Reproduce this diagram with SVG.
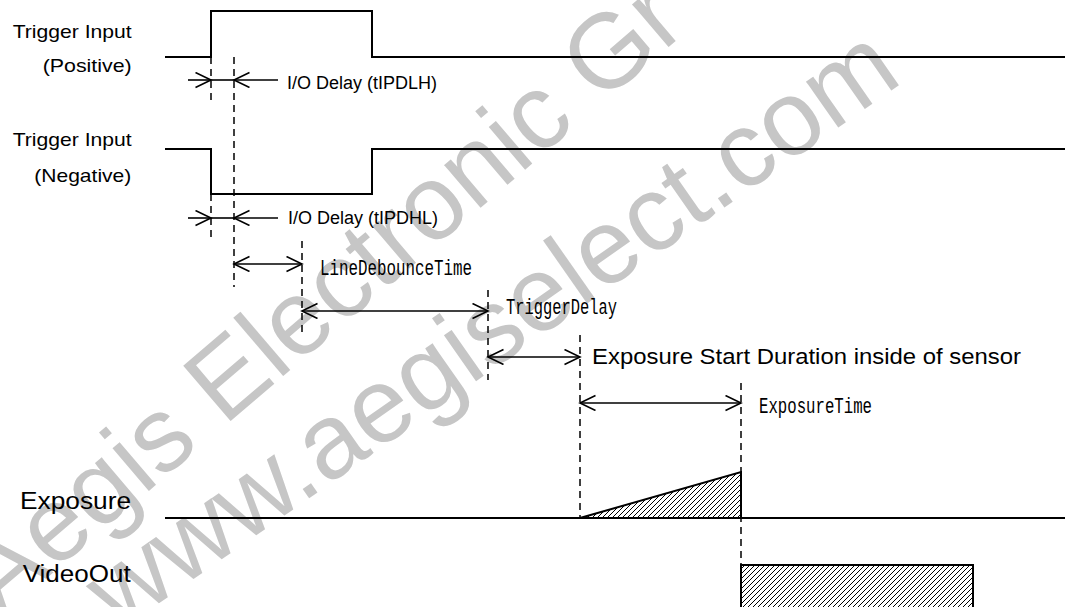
<svg xmlns="http://www.w3.org/2000/svg" width="1065" height="607" viewBox="0 0 1065 607">
<style>
.sig{fill:none;stroke:#000;stroke-width:2}
.dash{fill:none;stroke:#000;stroke-width:1.5;stroke-dasharray:7 5}
.arr{fill:none;stroke:#000;stroke-width:1.6}
.lbl{font-family:"Liberation Sans",Arial,sans-serif;fill:#000}
.mono{font-family:"Liberation Mono","DejaVu Sans Mono",monospace;font-size:22px;fill:#000}
.wm{font-family:"Liberation Sans",Arial,sans-serif;font-size:106px;fill:#c6c6c6}
</style>
<defs>
<marker id="head" viewBox="0 0 18 18" markerWidth="18" markerHeight="18" refX="16" refY="8" orient="auto-start-reverse" markerUnits="userSpaceOnUse">
<path d="M0.5,0.5 L16,8 L0.5,15.5" fill="none" stroke="#000" stroke-width="1.6"/>
</marker>
<pattern id="hatch" patternUnits="userSpaceOnUse" width="5" height="5">
<path d="M-1,1 L1,-1 M0,5 L5,0 M4,6 L6,4" stroke="#000" stroke-width="1"/>
</pattern>
</defs>
<rect width="1065" height="607" fill="#fff"/>
<g id="watermark">
<text class="wm" transform="translate(0,618) rotate(-40.5)">Aegis Electronic Gr</text>
<text class="wm" transform="translate(118,632) rotate(-35)">www.aegiselect.com</text>
</g>
<g id="trigger-positive">
<text class="lbl" x="12.7" y="37.5" font-size="18.6" textLength="119" lengthAdjust="spacingAndGlyphs">Trigger Input</text>
<text class="lbl" x="42.7" y="72" font-size="18.6" textLength="89" lengthAdjust="spacingAndGlyphs">(Positive)</text>
<path class="sig" d="M165,57 H211 V11 H372 V57 H1065"/>
</g>
<g id="trigger-negative">
<text class="lbl" x="12.7" y="146" font-size="18.6" textLength="119" lengthAdjust="spacingAndGlyphs">Trigger Input</text>
<text class="lbl" x="34.3" y="182" font-size="18.6" textLength="97" lengthAdjust="spacingAndGlyphs">(Negative)</text>
<path class="sig" d="M165,149 H211 V194 H372 V149 H1065"/>
</g>
<g id="exposure">
<text class="lbl" x="20" y="509" font-size="24.5" textLength="111" lengthAdjust="spacingAndGlyphs">Exposure</text>
<path class="sig" d="M165,518 H1065"/>
<polygon points="580,518 741,472 741,518" fill="url(#hatch)" stroke="#000" stroke-width="2"/>
</g>
<g id="videoout">
<text class="lbl" x="22.7" y="581.7" font-size="23.5" textLength="108" lengthAdjust="spacingAndGlyphs">VideoOut</text>
<rect x="741" y="565" width="232" height="60" fill="url(#hatch)" stroke="#000" stroke-width="2"/>
</g>
<g id="connectors">
<path class="dash" d="M211,57 V103 M211,194 V240 M234,57 V287 M302,241 V333 M488,290 V380 M580,335 V518 M741,383 V565"/>
<path class="arr" d="M188,80 H211" marker-end="url(#head)"/>
<path class="arr" d="M211,80 H234"/>
<path class="arr" d="M278,80 H234" marker-end="url(#head)"/>
<path class="arr" d="M188,218 H211" marker-end="url(#head)"/>
<path class="arr" d="M211,218 H234"/>
<path class="arr" d="M278,218 H234" marker-end="url(#head)"/>
<path class="arr" d="M234,264 H302" marker-start="url(#head)" marker-end="url(#head)"/>
<path class="arr" d="M302,311 H488" marker-start="url(#head)" marker-end="url(#head)"/>
<path class="arr" d="M488,357 H580" marker-start="url(#head)" marker-end="url(#head)"/>
<path class="arr" d="M580,403 H741" marker-start="url(#head)" marker-end="url(#head)"/>
</g>
<g id="labels">
<text class="lbl" x="287" y="89" font-size="18">I/O Delay (tIPDLH)</text>
<text class="lbl" x="288" y="224" font-size="18">I/O Delay (tIPDHL)</text>
<text class="mono" x="320" y="275" textLength="152" lengthAdjust="spacingAndGlyphs">LineDebounceTime</text>
<text class="mono" x="506" y="314" textLength="111" lengthAdjust="spacingAndGlyphs">TriggerDelay</text>
<text class="lbl" x="592" y="364" font-size="22.5" textLength="429" lengthAdjust="spacingAndGlyphs">Exposure Start Duration inside of sensor</text>
<text class="mono" x="759" y="413" textLength="113" lengthAdjust="spacingAndGlyphs">ExposureTime</text>
</g>
</svg>
